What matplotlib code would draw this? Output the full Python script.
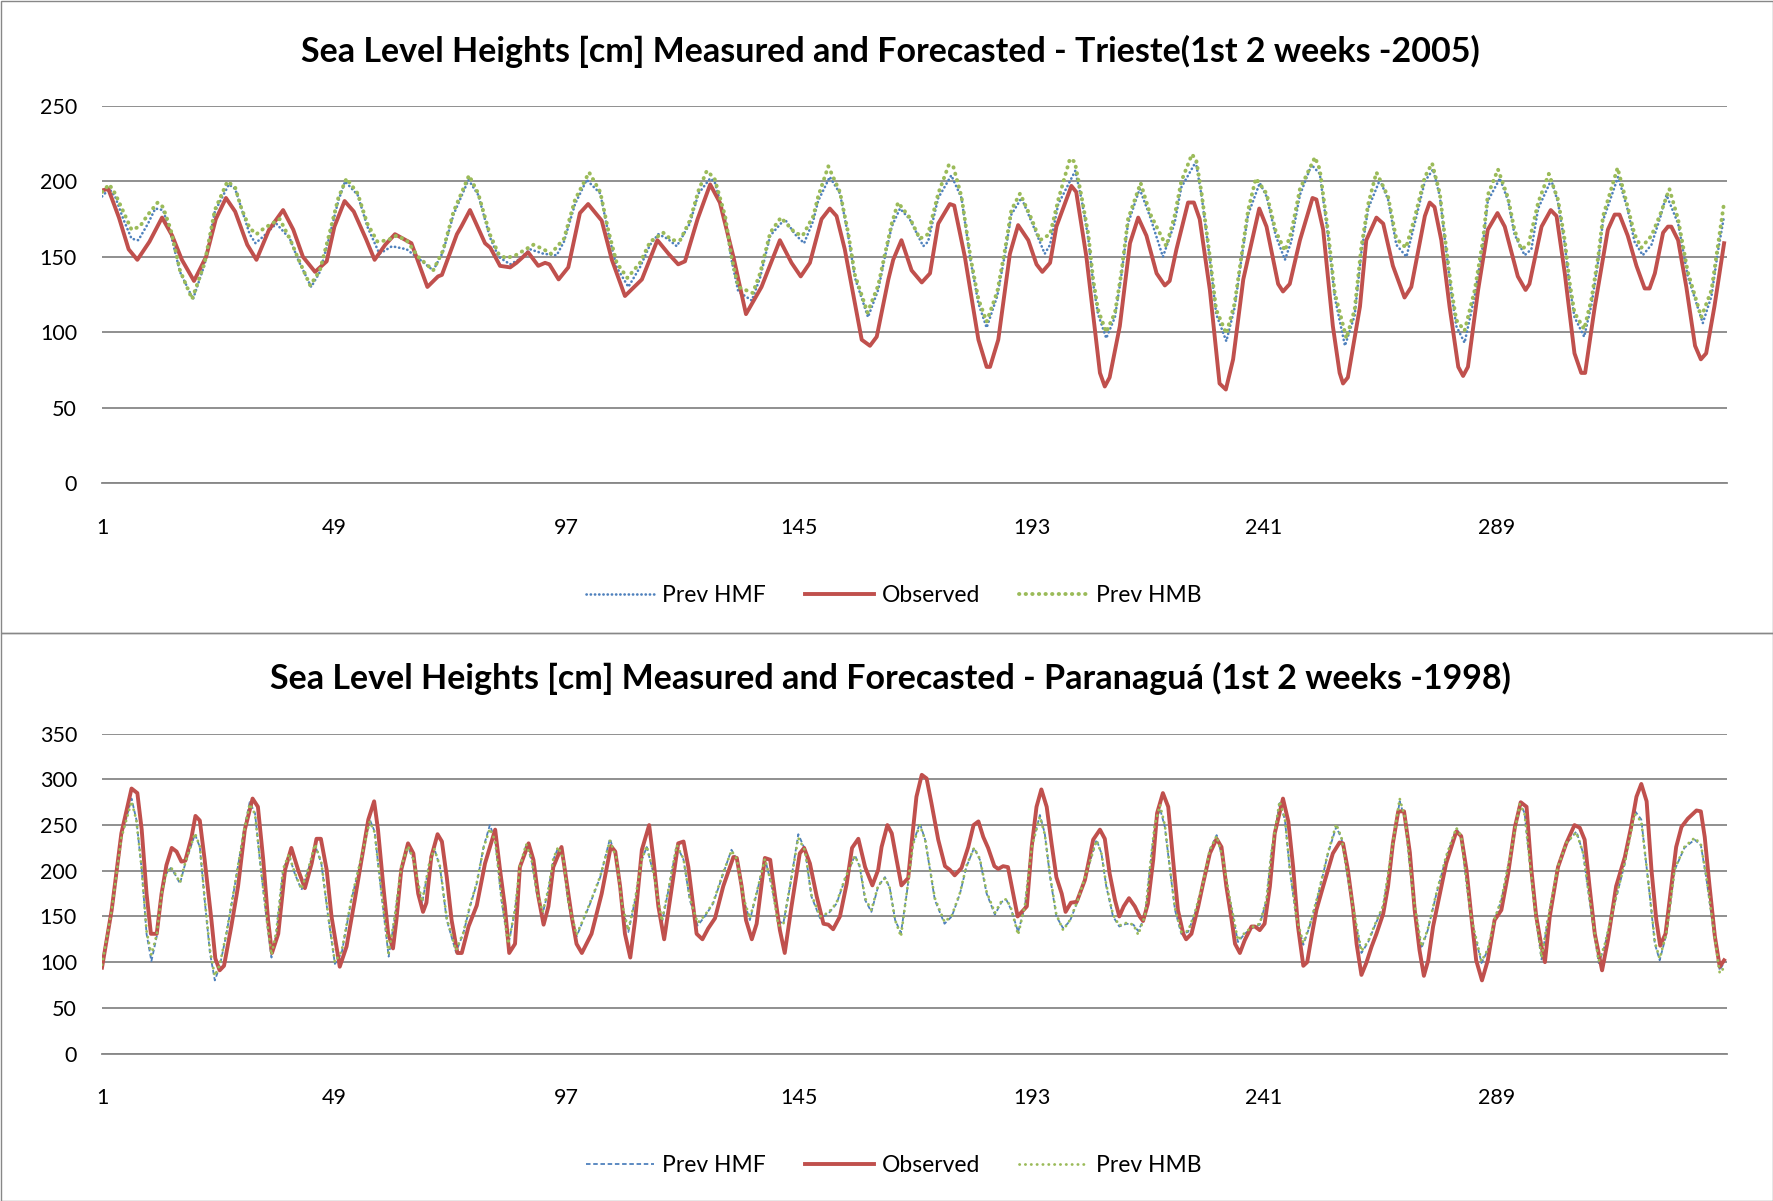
import matplotlib
matplotlib.use("Agg")
import matplotlib.pyplot as plt
from matplotlib.patches import Rectangle

plt.rcParams['font.family'] = ['Lato', 'DejaVu Sans']

# ---- Trieste 2005 (hour, value) ----
obs_top_h = [1, 2.3, 4.5, 6.5, 8.3, 10.8, 13.4, 15.5, 17.5, 20, 22.5, 24.5, 26.6, 28.5, 31, 32.9, 35.5, 38.4, 40.5, 42.5,
             45, 47.4, 49, 51.1, 53, 55.5, 57.3, 59.5, 61.5, 64.9, 68.2, 70.4, 71.2, 74.3, 75.2, 77, 80.1, 81.2, 83.2, 85.3,
             86.6, 89, 91.1, 92.5, 93.4, 95.3, 97.3, 99.7, 101.4, 104.2, 106.3, 109, 112.5, 115.7, 118, 120, 121.4, 124, 126.6, 128.6,
             131.4, 134, 137.2, 141, 143.4, 145.3, 147.2, 149.6, 151.3, 152.7, 154.4, 157.9, 159.6, 161, 163.4, 164.4, 166.1, 168.2, 170.3, 172,
             173.7, 176.1, 177, 179.2, 182, 183.7, 184.4, 186.1, 188.5, 190.2, 192.3, 194, 195.2, 196.8, 198.1, 201.2, 202.2, 204.3, 207.1, 208.1,
             209.1, 211.2, 213.3, 215, 216.7, 218.8, 220.5, 221.5, 222.9, 225.3, 226.5, 227.7, 229.8, 231.8, 233.1, 234.6, 236.7, 240, 241.5, 243.9,
             244.9, 246.3, 248.4, 251, 251.8, 253.2, 255.2, 256.6, 257.3, 258.3, 260.8, 262.1, 264.2, 265.6, 267.6, 270, 271.4, 274.2, 275.2, 276.2,
             277.6, 279.3, 281.1, 282.1, 283.1, 285.2, 287.2, 289.2, 290.7, 293.4, 295, 295.8, 298.3, 300.2, 301.4, 303.1, 305.1, 306.5, 307.3, 309.3,
             312, 313.4, 314.4, 316.1, 317.9, 319.6, 320.6, 321.7, 323.4, 324.4, 325.1, 326.5, 328.2, 330, 331.2, 332.3, 334, 336]
obs_top_v = [194, 195, 176, 155, 148, 160, 176, 164, 148, 134, 150, 175, 189, 180, 158, 148, 168, 181, 168, 150,
             140, 147, 170, 187, 180, 162, 148, 158, 165, 159, 130, 137, 138, 165, 170, 181, 159, 156, 144, 143,
             146, 153, 144, 146, 145, 135, 143, 179, 185, 174, 148, 124, 135, 161, 152, 145, 147, 175, 198, 186,
             150, 112, 130, 161, 146, 137, 146, 175, 182, 177, 155, 95, 91, 97, 135, 148, 161, 141, 133, 139,
             172, 185, 184, 150, 95, 77, 77, 95, 152, 171, 161, 145, 140, 146, 170, 197, 193, 150, 73, 64,
             70, 104, 159, 176, 164, 139, 131, 134, 155, 186, 186, 175, 128, 66, 62, 82, 135, 182, 170, 132,
             127, 132, 161, 189, 188, 168, 104, 73, 66, 70, 117, 161, 176, 172, 144, 123, 130, 177, 186, 183,
             161, 117, 77, 71, 77, 128, 168, 179, 170, 137, 128, 132, 170, 181, 177, 139, 86, 73, 73, 117,
             168, 178, 178, 164, 144, 129, 129, 139, 166, 170, 170, 161, 130, 91, 82, 86, 117, 159]

hmf_top_h = [1, 2.5, 3.7, 5.4, 7.1, 8.5, 10.5, 12, 13.6, 15.2, 17.1, 19.8, 22.2, 24.3, 27.2, 28.5, 29.8, 31.5, 32.7, 34.5,
             37, 39.8, 41.5, 44.2, 46, 47.7, 49.8, 51.2, 53.8, 55.8, 58.3, 60.9, 63.9, 66.3, 69.4, 71.4, 73.6, 76.7, 78.7, 81.1,
             82.9, 85.3, 87, 89.4, 92.2, 94.9, 96.4, 98.7, 101.1, 103.9, 105.6, 107.3, 109.7, 112.1, 114.2, 115.9, 117.8, 119.7, 122.4, 124.2,
             126.6, 127.5, 129.7, 131, 132.4, 135.2, 136.9, 139, 142, 144.1, 146, 147.9, 148.9, 151.3, 153.4, 155.1, 156.5, 159.2, 161.3, 162.7,
             164.1, 165.8, 167.8, 170.6, 171.6, 173.7, 176.4, 178.5, 180.4, 182, 183.7, 185.9, 187.5, 188.8, 190.9, 193, 195.7, 196.8, 198.5, 202,
             203.3, 204.7, 205.7, 206.7, 208.4, 210.2, 211.5, 212.9, 215.3, 217.4, 220.1, 222.5, 223.9, 226.9, 228.1, 229.8, 231.1, 233.2, 234.9, 236.3,
             237.7, 240.1, 241.5, 243.4, 245.3, 246.6, 248.4, 250.8, 252.5, 254.2, 255.6, 257.7, 259.7, 261.1, 262.5, 264.9, 266.6, 268.3, 270.4, 272.1,
             274.2, 275.9, 277.3, 278.3, 279.7, 280.7, 282.4, 284.5, 286.2, 287.2, 289.7, 291.4, 292.7, 294.8, 296.2, 297.6, 300.3, 301.7, 303.1, 304.1,
             305.1, 307.1, 308.6, 310, 311, 314.1, 316.1, 317.5, 319.2, 321, 322.8, 324.1, 326.5, 328.5, 331.6, 333.4, 334.7, 336]
hmf_top_v = [190, 195, 190, 175, 162, 161, 172, 182, 181, 165, 140, 122, 145, 180, 198, 195, 182, 165, 159, 164,
             172, 162, 148, 130, 140, 160, 187, 200, 191, 170, 152, 157, 155, 149, 141, 153, 178, 201, 191, 163,
             150, 145, 148, 155, 152, 151, 160, 185, 201, 192, 165, 143, 130, 143, 158, 165, 162, 157, 172, 192,
             202, 200, 175, 148, 127, 121, 136, 164, 175, 165, 159, 174, 187, 203, 192, 164, 136, 110, 128, 150,
             170, 182, 175, 157, 160, 189, 204, 189, 147, 119, 103, 124, 152, 178, 189, 173, 152, 158, 185, 207,
             188, 162, 132, 112, 96, 110, 137, 172, 195, 177, 150, 172, 196, 213, 190, 148, 112, 94, 116, 148,
             178, 199, 190, 164, 148, 160, 191, 211, 205, 164, 123, 91, 111, 153, 182, 201, 188, 158, 150, 172,
             200, 208, 190, 162, 125, 104, 93, 124, 158, 187, 202, 187, 165, 151, 155, 182, 201, 186, 158, 130,
             110, 97, 118, 147, 174, 203, 181, 160, 151, 158, 176, 191, 172, 137, 106, 124, 153, 177]

hmb_top_h = [1, 2.5, 3.7, 5.4, 7.1, 8.8, 10.5, 12.5, 13.6, 15.2, 17.1, 19.6, 22.2, 24.3, 26.9, 28.5, 29.8, 31.5, 32.9, 34.5,
             37.7, 39.8, 41.5, 44, 46, 47.7, 49.8, 51.5, 53.8, 55.8, 57.9, 60, 61.8, 63.9, 66.3, 69.4, 71.4, 73.6, 76.8, 78.7,
             81.1, 82.9, 84.4, 86.4, 90.1, 92.2, 93.7, 96.4, 98.7, 101.6, 103.9, 105.6, 107.3, 109.5, 112.1, 114.2, 116.9, 118.7, 120.4, 122.4,
             124.2, 125.9, 127.5, 129.7, 131, 132.4, 135.4, 136.9, 139, 141.2, 144.1, 145.7, 147.9, 148.9, 151, 153.4, 155.1, 156.5, 159.1, 161.3,
             162.7, 164.1, 165.4, 167.8, 169.9, 171.6, 173.7, 175.9, 176.8, 178.5, 180.4, 182, 183.7, 185.9, 187.5, 188.8, 190.6, 193, 194.7, 196.8,
             198.5, 200.9, 201.9, 203.3, 204.7, 205.7, 206.7, 208.4, 210.2, 211.5, 212.9, 215.5, 217.4, 220.8, 222.5, 223.9, 226.1, 227, 228.1, 229.8,
             231.1, 233.2, 234.9, 236.3, 237.7, 239.3, 241.5, 243.4, 245.3, 246.6, 248.4, 251.5, 252.5, 254.2, 255.6, 258, 259.7, 261.1, 262.5, 264.2,
             266.6, 268.3, 270.3, 272.1, 274.2, 275.7, 277.3, 278.3, 279.7, 280.7, 282.4, 284.5, 286.2, 287.2, 289.3, 291.4, 292.7, 294.1, 295.6, 297.6,
             299.8, 301.7, 303.1, 304.1, 305.1, 307.1, 308.6, 310, 311, 314, 316.1, 317.5, 318.9, 321, 322.8, 324.7, 326.5, 328.5, 331.3, 333.4,
             334.7, 336]
hmb_top_v = [193, 198, 192, 180, 168, 170, 178, 186, 183, 168, 141, 122, 146, 181, 200, 196, 182, 169, 165, 169,
             175, 162, 149, 131, 141, 162, 189, 202, 192, 172, 160, 161, 164, 161, 150, 141, 154, 180, 204, 192,
             165, 152, 149, 151, 158, 155, 152, 162, 188, 206, 193, 167, 146, 136, 146, 160, 166, 161, 161, 174,
             194, 207, 202, 177, 150, 130, 126, 139, 166, 176, 166, 164, 177, 190, 210, 193, 166, 138, 113, 131,
             152, 172, 186, 176, 162, 165, 192, 211, 210, 190, 149, 122, 107, 127, 155, 181, 192, 175, 161, 165,
             188, 215, 213, 190, 165, 135, 115, 100, 113, 139, 175, 199, 179, 157, 177, 200, 218, 214, 192, 150,
             115, 99, 119, 150, 181, 202, 192, 167, 154, 166, 195, 216, 208, 167, 126, 96, 115, 157, 185, 206,
             190, 162, 156, 176, 203, 212, 192, 164, 128, 108, 101, 128, 161, 191, 208, 189, 168, 155, 158, 186,
             205, 188, 161, 133, 113, 102, 122, 150, 177, 209, 183, 165, 156, 164, 178, 195, 175, 140, 110, 128,
             157, 186]

# ---- Paranagua 1998 ----
obs_bot_h = [1, 3, 5, 7.1, 8.3, 9.2, 10.2, 11.1, 12.3, 13.3, 14.3, 15.4, 16.4, 17.4, 18.2, 19.5, 20.3, 21.2, 22.2, 23.6,
             24.4, 25.3, 26.2, 27.7, 29.1, 30.5, 32.1, 33.2, 34.3, 35.3, 36.1, 37.4, 38.8, 40.1, 41.5, 42.9, 44.3, 45.3, 46.2, 47.4,
             48.4, 50.1, 51.5, 53.2, 54.6, 56, 57.2, 58, 59.1, 60.1, 61.1, 61.8, 62.8, 64.2, 65.3, 66.3, 67.3, 68, 69, 70.3,
             71.2, 72.2, 73.2, 74.4, 75.3, 76.7, 78.4, 80.1, 82.2, 83.2, 84.2, 85.1, 86.3, 87.3, 89.1, 90.1, 91.1, 92.2, 93.2, 94.2,
             95.9, 97, 98, 99, 100.1, 102.1, 104.2, 106.1, 107, 108, 109, 110.1, 111.1, 112.5, 114, 114.9, 115.9, 117.1, 118.3, 120,
             121.1, 122.1, 123.8, 125, 126.2, 127.6, 129.3, 131.4, 132.1, 133.1, 134, 135.2, 136.2, 137.9, 139, 140, 141, 142, 143.4, 145.1,
             146, 147.2, 148.6, 150, 151, 152, 153.4, 154.8, 155.9, 157.2, 158.6, 160.1, 161.3, 162, 163.2, 164.1, 165.1, 166.1, 167.5, 168.2,
             169.2, 170.3, 171.3, 172.3, 173.7, 175.1, 176.1, 177.1, 178.5, 179.9, 181, 182, 183, 184, 185.3, 186.1, 187.1, 188.1, 190.1, 192,
             193, 194, 195, 196.1, 197.1, 198.1, 199.2, 200, 201.1, 202.3, 204, 205.7, 207.1, 208.1, 209.1, 210.2, 211.1, 212, 213.1, 214.3,
             215.3, 216, 217, 218.1, 218.9, 220.1, 221.2, 222.2, 223.2, 224.3, 224.9, 226, 227.4, 228.4, 229.8, 231.2, 232.2, 233.2, 234.3, 235,
             236, 237, 238.4, 239.1, 240.1, 241.1, 242.2, 243.2, 244.9, 246, 247, 248, 249.1, 249.9, 250.8, 251.8, 253.2, 255.2, 256.6, 257.3,
             258.3, 259.4, 260.1, 261.1, 262.1, 263.2, 264.2, 265.6, 266.6, 267.6, 268.7, 269.9, 271.1, 272.1, 273.1, 274, 274.9, 275.9, 277.3, 278.6,
             280.7, 281.7, 282.8, 283.8, 284.8, 286, 287.2, 288.6, 290, 291.4, 292.8, 294, 295.2, 296.2, 297.2, 298.3, 299, 300, 301.7, 303.4,
             305.1, 306.2, 307.2, 308.2, 309.3, 310.8, 312, 313.7, 315.5, 316.8, 317.9, 318.9, 320, 321, 322, 322.8, 323.9, 325.1, 326.1, 327.2,
             328.5, 330.3, 331.2, 332, 333, 334.1, 335.1, 336]
obs_bot_v = [94, 157, 241, 290, 285, 245, 175, 131, 131, 175, 206, 225, 221, 210, 211, 237, 260, 255, 212, 146,
             104, 91, 96, 139, 183, 245, 279, 270, 212, 146, 110, 131, 201, 225, 201, 181, 208, 235, 235, 201,
             150, 95, 117, 168, 212, 256, 276, 245, 183, 131, 115, 146, 201, 230, 219, 175, 155, 165, 215, 240,
             232, 193, 146, 110, 110, 139, 162, 208, 245, 201, 161, 110, 120, 204, 230, 212, 172, 141, 161, 204,
             226, 186, 150, 120, 110, 131, 175, 227, 221, 183, 131, 105, 146, 223, 250, 212, 161, 125, 168, 230,
             232, 204, 131, 125, 137, 148, 183, 215, 214, 183, 146, 125, 142, 214, 212, 172, 135, 110, 161, 219,
             225, 208, 172, 142, 141, 136, 150, 186, 225, 235, 204, 184, 201, 226, 250, 241, 212, 184, 192, 230,
             281, 305, 301, 274, 234, 205, 201, 195, 203, 226, 250, 254, 237, 225, 205, 202, 205, 204, 150, 161,
             226, 270, 289, 270, 230, 193, 175, 155, 165, 166, 190, 234, 245, 235, 197, 168, 150, 161, 170, 161,
             150, 145, 164, 212, 263, 285, 270, 212, 157, 131, 125, 131, 161, 186, 219, 235, 226, 183, 146, 120,
             110, 124, 139, 139, 135, 142, 183, 241, 279, 254, 204, 139, 96, 100, 128, 157, 183, 219, 231, 230,
             201, 157, 120, 86, 99, 117, 131, 153, 183, 230, 265, 265, 220, 157, 113, 85, 102, 139, 175, 208,
             243, 238, 201, 150, 102, 80, 102, 146, 157, 197, 248, 275, 270, 201, 150, 117, 100, 150, 204, 230,
             250, 247, 234, 183, 131, 91, 124, 183, 215, 248, 281, 295, 276, 201, 146, 118, 131, 183, 226, 248,
             257, 266, 265, 237, 183, 128, 95, 102]

fc_bot_h = [1, 3, 5, 7.1, 8.1, 9.2, 10.2, 11.2, 12.3, 13.3, 14.3, 15.2, 16.2, 17.1, 18.2, 20.2, 21.2, 22.2, 23.3, 24.3,
            25.3, 26.7, 28.4, 30.2, 31.5, 32.6, 33.6, 35, 36, 37, 38.4, 39.6, 40.8, 42.2, 43.6, 45, 46.3, 47.7, 49.1, 50.5,
            52.5, 54.6, 56.3, 57.3, 58.7, 60.2, 61.5, 62.8, 64.2, 65.3, 67.1, 68.5, 69.6, 70.8, 72.2, 74.1, 75.6, 77, 78.4, 79.8,
            81.1, 82.2, 83.5, 84.9, 86.3, 87.3, 88.6, 89.7, 90.8, 92, 93.2, 94.2, 95.2, 96.3, 97.3, 99, 100.4, 101.8, 103.9, 105.9,
            107.3, 108.3, 109.7, 111.1, 112.5, 113.5, 114.9, 116.6, 118, 119.7, 121.1, 122.4, 124, 125.5, 127.2, 129.3, 131, 132.1, 133.5, 134.8,
            136.2, 137.9, 139.3, 140.7, 141.7, 143.1, 144.8, 146.2, 147.5, 149.3, 151, 152.7, 154.4, 156.5, 157.5, 158.6, 159.9, 161.3, 162.7, 163.7,
            164.8, 166, 167.2, 168.5, 169.9, 171, 172, 173, 175, 176.5, 178.2, 179.5, 181.1, 182.3, 183.7, 185.4, 186.8, 187.8, 188.8, 190.2,
            191.6, 193, 194.7, 195.7, 196.8, 198.1, 199.5, 200.9, 202.6, 204.3, 206.4, 207.4, 208.4, 209.8, 211.1, 212.6, 214, 215, 216.4, 217.4,
            218.4, 219.5, 220.5, 221.5, 222.6, 223.9, 225.3, 226.7, 228.4, 229.8, 231.2, 232.5, 233.9, 235.6, 237, 238.4, 240.1, 241.5, 242.5, 244.2,
            245.3, 246.3, 247.7, 249.1, 250.4, 252.1, 254.2, 255.9, 257, 258, 259.4, 261.1, 262.5, 263.8, 265.6, 267, 269, 270.2, 271, 271.8,
            273.5, 274.8, 276.6, 278.6, 280.7, 281.7, 282.8, 283.8, 285.9, 287.2, 288.6, 290, 291.7, 293.8, 294.8, 295.8, 296.9, 298.3, 299.6, 301.7,
            303.5, 305.5, 306.9, 308.2, 310.1, 311.3, 313.4, 315.5, 317.5, 318.9, 320.6, 321.7, 322.7, 324.1, 325.8, 327.8, 329.9, 331.2, 332.3, 333.7,
            335.1, 336]
hmf_bot_v = [98, 157, 237, 279, 256, 201, 131, 101, 128, 175, 197, 203, 195, 186, 208, 240, 226, 168, 110, 80,
             95, 131, 183, 241, 275, 263, 212, 146, 105, 131, 201, 217, 197, 179, 201, 228, 208, 150, 98, 110,
             168, 215, 256, 243, 175, 106, 150, 204, 226, 212, 164, 205, 225, 204, 146, 111, 131, 161, 186, 226,
             250, 234, 168, 118, 157, 204, 228, 212, 175, 153, 179, 212, 225, 212, 164, 128, 146, 164, 193, 235,
             212, 164, 133, 168, 212, 226, 197, 142, 179, 228, 212, 168, 140, 150, 164, 197, 223, 212, 168, 146,
             175, 214, 183, 145, 142, 183, 240, 223, 172, 148, 153, 164, 190, 217, 204, 168, 155, 183, 193, 181,
             146, 132, 175, 230, 252, 234, 201, 168, 142, 150, 175, 204, 225, 212, 175, 152, 166, 168, 157, 133,
             161, 226, 261, 241, 193, 150, 137, 145, 168, 197, 234, 219, 183, 150, 139, 142, 141, 134, 150, 201,
             248, 268, 248, 204, 157, 131, 133, 153, 186, 223, 239, 212, 168, 122, 131, 137, 141, 168, 219, 274,
             256, 201, 146, 119, 139, 172, 219, 248, 235, 201, 157, 110, 122, 139, 161, 208, 276, 255, 210, 170,
             115, 135, 175, 215, 246, 238, 186, 146, 99, 113, 146, 168, 212, 275, 263, 212, 157, 103, 146, 204,
             230, 243, 219, 168, 99, 117, 164, 208, 266, 256, 175, 120, 102, 131, 201, 225, 234, 228, 193, 139,
             91, 100]
hmb_bot_v = [97, 157, 236, 276, 255, 203, 134, 108, 130, 175, 198, 204, 196, 187, 209, 241, 227, 170, 113, 85,
             97, 132, 184, 240, 273, 262, 213, 148, 108, 133, 202, 218, 198, 180, 202, 229, 209, 152, 100, 112,
             169, 216, 254, 242, 177, 110, 151, 205, 227, 213, 166, 206, 224, 205, 148, 113, 132, 162, 187, 225,
             246, 233, 170, 120, 158, 205, 229, 213, 177, 155, 180, 213, 226, 213, 166, 130, 147, 165, 194, 233,
             213, 166, 135, 169, 213, 227, 198, 145, 180, 228, 213, 170, 143, 151, 165, 198, 222, 213, 170, 148,
             176, 213, 185, 140, 141, 184, 236, 222, 174, 150, 154, 165, 191, 216, 205, 170, 157, 184, 192, 181,
             146, 128, 176, 229, 250, 234, 202, 170, 144, 151, 176, 205, 225, 213, 177, 154, 167, 169, 158, 130,
             162, 226, 259, 240, 195, 152, 135, 146, 169, 198, 233, 219, 185, 152, 140, 143, 141, 130, 151, 202,
             250, 272, 250, 205, 159, 133, 134, 154, 187, 223, 238, 213, 170, 124, 132, 138, 142, 169, 220, 276,
             257, 203, 148, 121, 140, 173, 220, 251, 236, 203, 159, 112, 123, 140, 162, 210, 279, 256, 211, 172,
             117, 136, 176, 216, 247, 238, 188, 148, 101, 114, 147, 169, 213, 273, 262, 213, 159, 105, 147, 205,
             231, 242, 219, 170, 101, 118, 165, 209, 262, 254, 177, 122, 104, 132, 202, 226, 236, 229, 195, 141,
             88, 94]

labels = ['Prev HMF', 'Observed', 'Prev HMB']
xtick_pos = [1, 49, 97, 145, 193, 241, 289]
top_title = 'Sea Level Heights [cm] Measured and Forecasted - Trieste(1st 2 weeks -2005)'
bot_title = 'Sea Level Heights [cm] Measured and Forecasted - Paranaguá (1st 2 weeks -1998)'

blue = '#4F81BD'
red = '#C0504D'
green = '#9BBB59'
grid_c = '#878787'

W, H = 1773, 1201
fig = plt.figure(figsize=(W / 100, H / 100), dpi=100)


def fx(px):
    return px / W


def fy(py):
    return 1 - py / H


def style_axes(ax, ymax):
    ax.set_xlim(1, 336.6)
    ax.set_ylim(0, ymax)
    ax.set_yticks(range(0, ymax + 1, 50))
    ax.set_xticks(xtick_pos)
    for s in ['top', 'right', 'left']:
        ax.spines[s].set_visible(False)
    ax.spines['bottom'].set_color(grid_c)
    ax.spines['bottom'].set_linewidth(1.3)
    ax.yaxis.grid(True, color=grid_c, linewidth=1.3)
    ax.set_axisbelow(True)
    ax.tick_params(axis='both', length=0, labelsize=15.5, colors='black')
    ax.tick_params(axis='x', pad=25)
    ax.tick_params(axis='y', pad=18)


# top chart
ax1 = fig.add_axes([fx(102), fy(483), fx(1727 - 102), (483 - 106) / H])
l1, = ax1.plot(hmf_top_h, hmf_top_v, color=blue, lw=1.9, linestyle=(0, (0.1, 1.5)), dash_capstyle='round')
l2, = ax1.plot(obs_top_h, obs_top_v, color=red, lw=2.8)
l3, = ax1.plot(hmb_top_h, hmb_top_v, color=green, lw=2.8, linestyle=(0, (0.1, 1.6)), dash_capstyle='round')
style_axes(ax1, 250)
fig.text(0.502, fy(51), top_title, ha='center', va='center', fontsize=24.5, fontweight='bold')
fig.legend([l1, l2, l3], labels, loc='upper center', bbox_to_anchor=(0.504, fy(564)), ncol=3,
           frameon=False, fontsize=16.5, handlelength=3.0, columnspacing=1.7, handletextpad=0.35)

# bottom chart
ax2 = fig.add_axes([fx(102), fy(1053.5), fx(1727 - 102), (1053.5 - 733.7) / H])
m1, = ax2.plot(fc_bot_h, hmf_bot_v, color=blue, lw=1.3, linestyle=(0, (2.5, 1.5)))
m2, = ax2.plot(obs_bot_h, obs_bot_v, color=red, lw=2.8)
m3, = ax2.plot(fc_bot_h, hmb_bot_v, color=green, lw=2.0, linestyle=(0, (0.1, 2.0)), dash_capstyle='round')
style_axes(ax2, 350)
fig.text(0.502, fy(678), bot_title, ha='center', va='center', fontsize=24.5, fontweight='bold')
fig.legend([m1, m2, m3], labels, loc='upper center', bbox_to_anchor=(0.504, fy(1134)), ncol=3,
           frameon=False, fontsize=16.5, handlelength=3.0, columnspacing=1.7, handletextpad=0.35)

# chart borders
for y0, y1 in [(0.5, 633), (633, 1200.5)]:
    fig.add_artist(Rectangle((fx(0.5), fy(y1)), fx(W - 1), (y1 - y0) / H, transform=fig.transFigure,
                             fill=False, edgecolor=grid_c, linewidth=1.0))

fig.savefig('out.png', dpi=100)
